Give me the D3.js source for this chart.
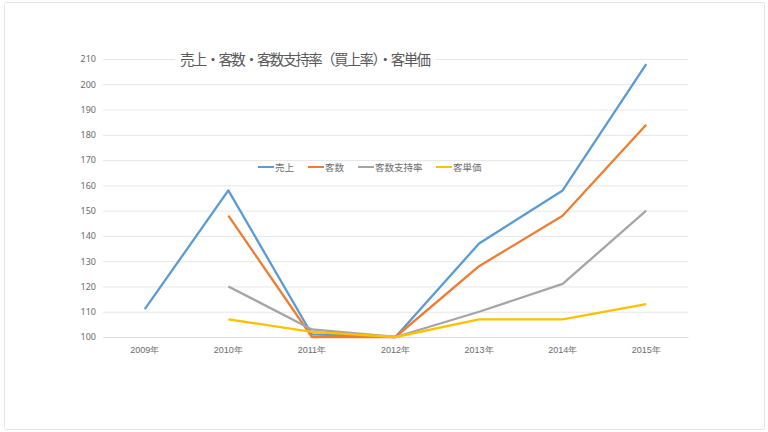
<!DOCTYPE html>
<html><head><meta charset="utf-8">
<script src="https://cdn.jsdelivr.net/npm/d3@7"></script>
<style>
body{margin:0;background:#fff;}
svg{display:block;font-family:"Noto Sans CJK JP","Noto Sans",sans-serif;}
</style></head>
<body><svg id="c" width="768" height="432"></svg>
<script>
const years = ["2009年","2010年","2011年","2012年","2013年","2014年","2015年"];
const uriage = [111,158,101,100,137,158,208];
const kyakusu = [null,148,100,100,128,148,184];
const shijiritsu = [null,120,103,100,110,121,150];
const tanka = [null,107,102,100,107,107,113];
const yTicks = [100,110,120,130,140,150,160,170,180,190,200,210];
const seriesNames = ["売上","客数","客数支持率","客単価"];
const seriesColors = ["#5B9BD5","#ED7D31","#A5A5A5","#FFC000"];
const title = "売上・客数・客数支持率（買上率）・客単価";

(function(){
const svg = d3.select("#c");
svg.append("rect").attr("x",4.5).attr("y",2.5).attr("width",760).attr("height",427)
  .attr("fill","#fff").attr("stroke","#e4e4e4").attr("rx",2);

const pL=103,pR=688,pT=59,pB=337;
const x = d3.scaleBand().domain(years).range([pL,pR]);
const y = d3.scaleLinear().domain([100,210]).range([pB,pT]);

const ga = svg.append("g").attr("transform",`translate(${pL},0)`)
  .call(d3.axisLeft(y).tickValues(yTicks).tickSize(-(pR-pL)).tickPadding(7));
ga.select(".domain").remove();
ga.selectAll(".tick line").attr("stroke","#e6e6e6").attr("stroke-width",1);
ga.selectAll(".tick text").attr("fill","#6b6b6b").attr("font-size",9)
  .attr("font-family","Noto Sans, sans-serif");

const gx = svg.append("g").attr("transform",`translate(0,${pB})`)
  .call(d3.axisBottom(x).tickSize(0).tickPadding(10));
gx.select(".domain").attr("stroke","#dcdcdc");
gx.selectAll(".tick text").attr("fill","#6b6b6b").attr("font-size",9);

const data=[uriage,kyakusu,shijiritsu,tanka];
const line = d3.line().defined(d=>d.v!=null)
  .x(d=>x(d.k)+x.bandwidth()/2).y(d=>y(d.v));
data.forEach((arr,i)=>{
  svg.append("path").datum(years.map((k,j)=>({k,v:arr[j]})))
    .attr("d",line).attr("fill","none").attr("stroke",seriesColors[i])
    .attr("stroke-width",2.3).attr("stroke-linejoin","round");
});

const bg = svg.append("rect").attr("fill","#fff");
const tt = svg.append("text").attr("x",180).attr("y",64.5).attr("font-size",14.5)
  .attr("textLength",251).attr("lengthAdjust","spacing")
  .attr("fill","#595959").text(title);
const bb = tt.node().getBBox();
bg.attr("x",bb.x-5).attr("y",bb.y).attr("width",bb.width+10).attr("height",bb.height);

const legX=[258,308,358,436];
const lg = svg.append("g");
seriesNames.forEach((n,i)=>{
  lg.append("line").attr("x1",legX[i]).attr("x2",legX[i]+16).attr("y1",167).attr("y2",167)
    .attr("stroke",seriesColors[i]).attr("stroke-width",2);
  lg.append("text").attr("x",legX[i]+17).attr("y",170.5).attr("font-size",9.5)
    .attr("fill","#6b6b6b").text(n);
});
})();
</script></body></html>
